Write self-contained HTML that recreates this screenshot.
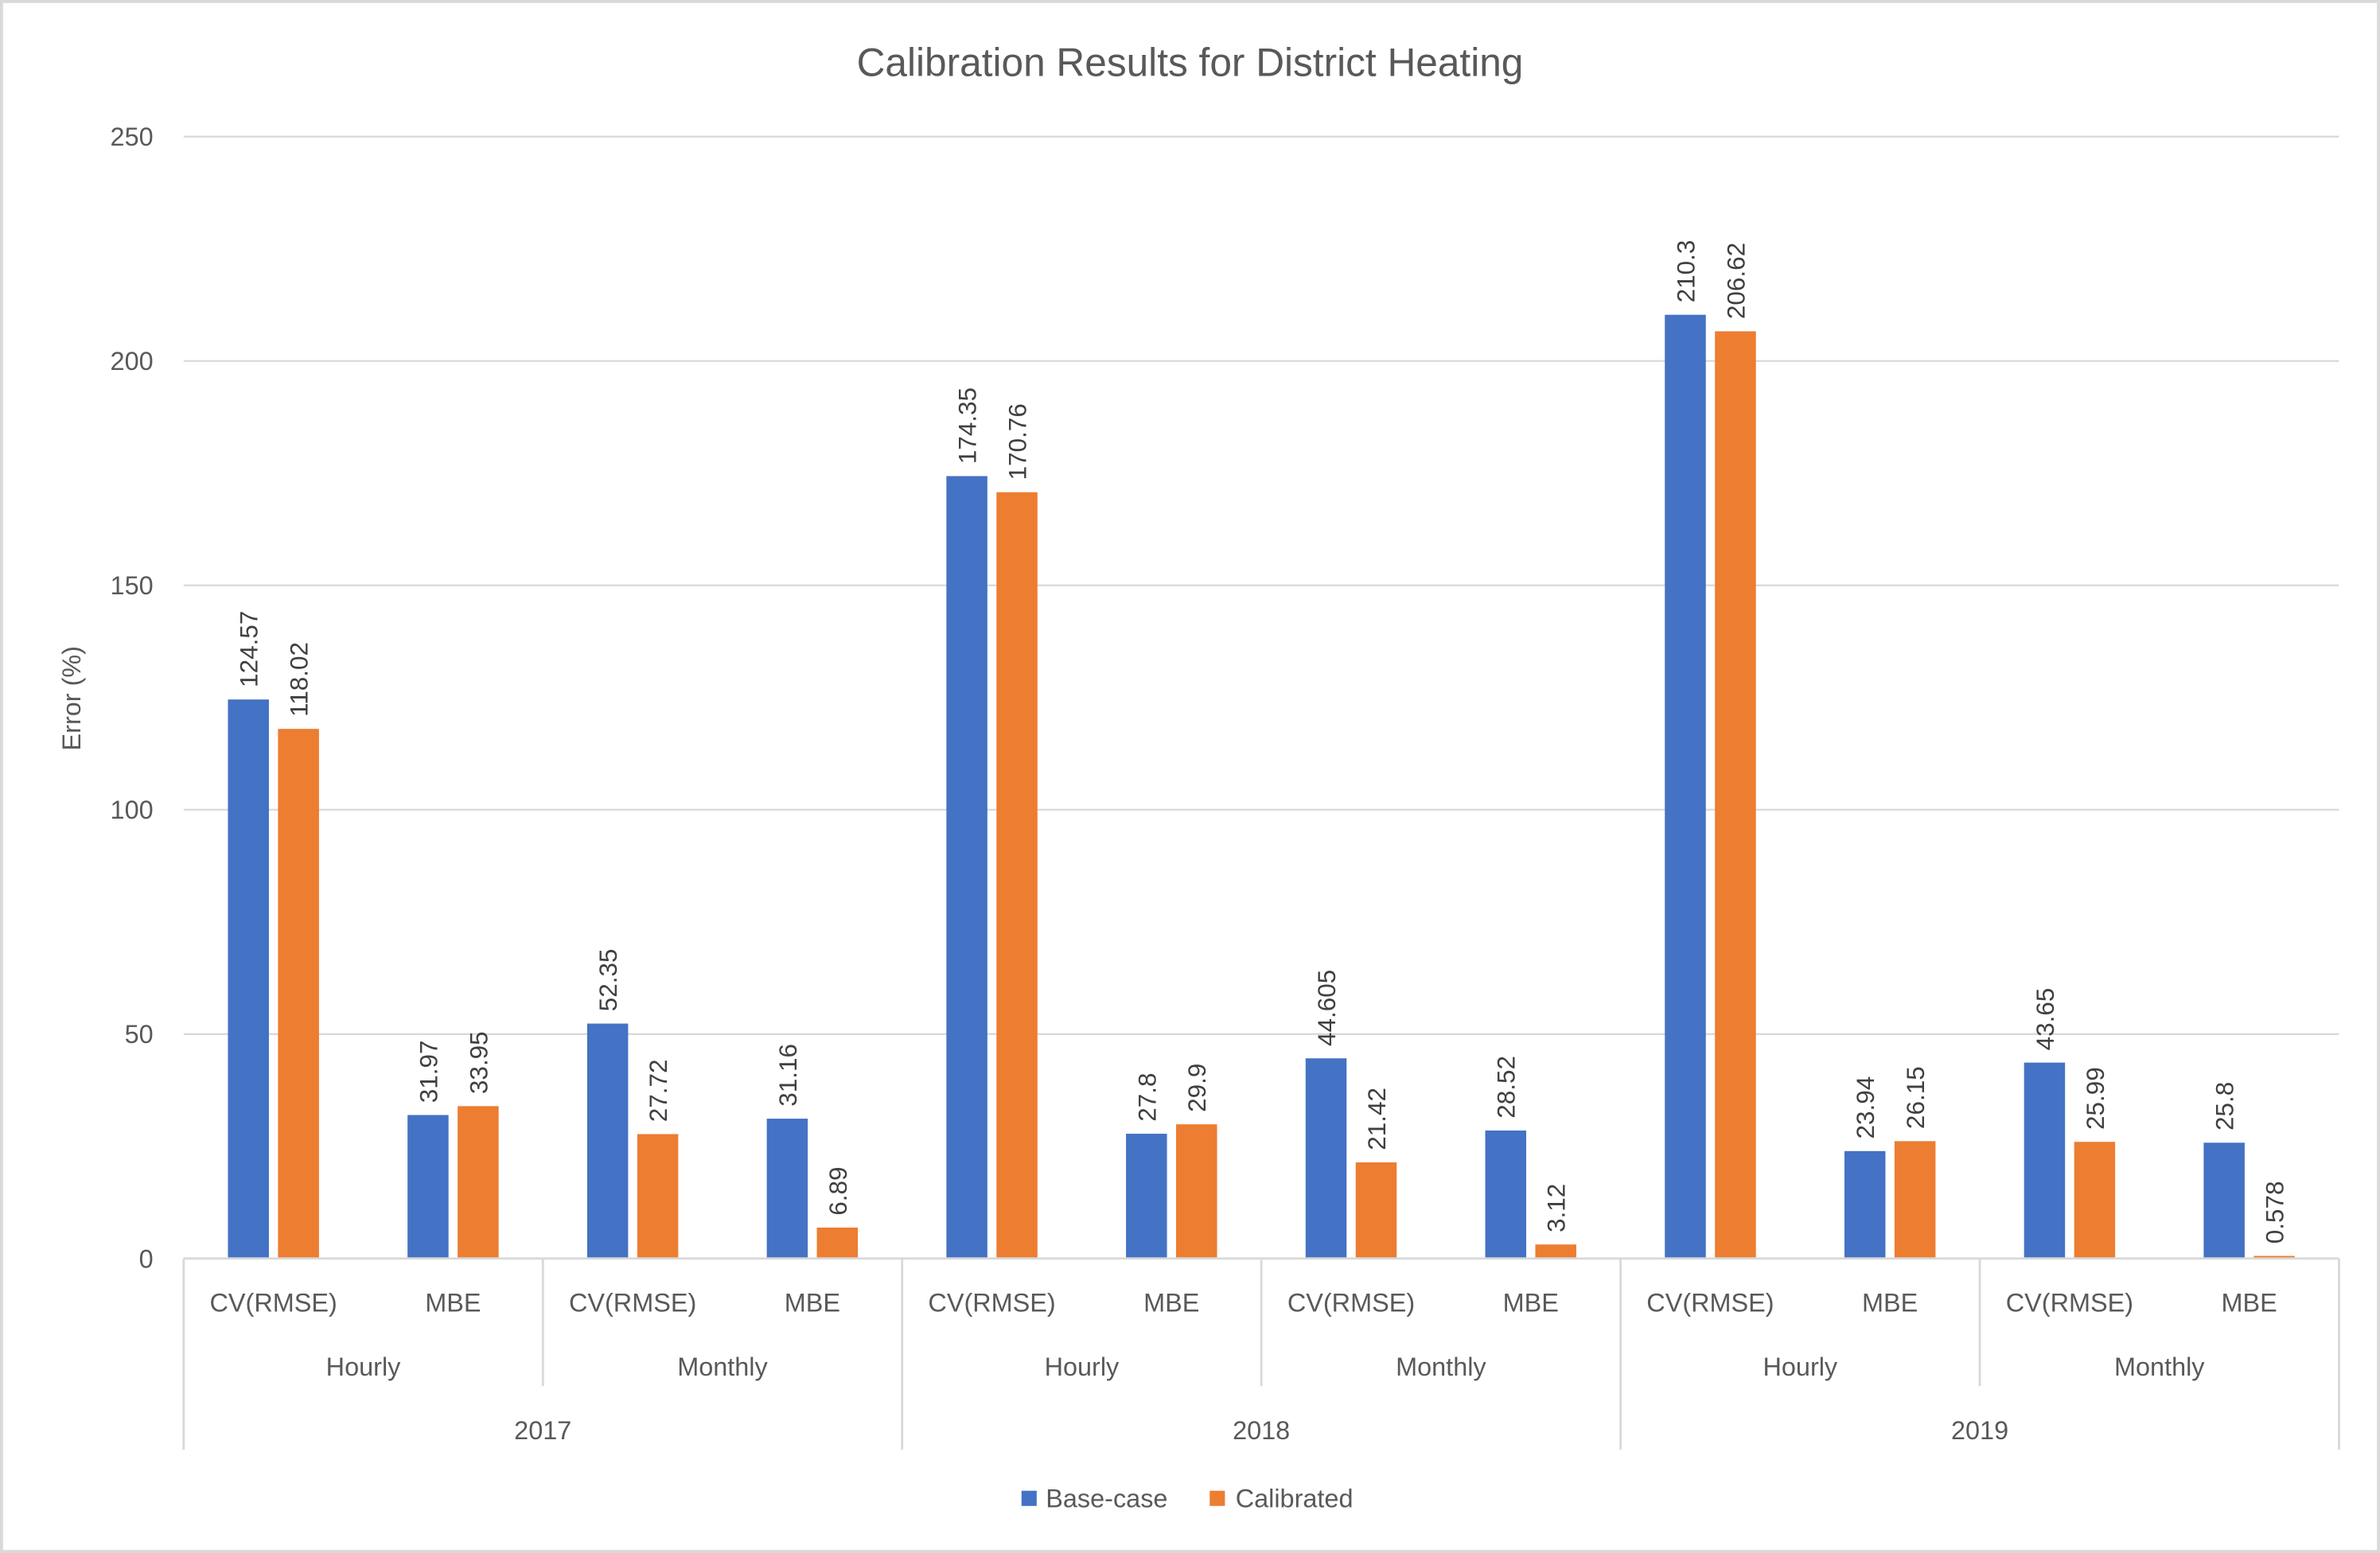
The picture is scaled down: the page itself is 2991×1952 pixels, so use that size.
<!DOCTYPE html>
<html><head><meta charset="utf-8"><style>
html,body{margin:0;padding:0;background:#fff;}
svg{display:block;font-family:"Liberation Sans",sans-serif;}
</style></head><body>
<svg id="chart" width="2991" height="1952" viewBox="0 0 1568 1023" preserveAspectRatio="none" xmlns="http://www.w3.org/2000/svg">
<rect x="1" y="1" width="1566" height="1021" fill="#fff" stroke="#d9d9d9" stroke-width="2"/>
<text x="784" y="50" text-anchor="middle" font-size="26" fill="#595959">Calibration Results for District Heating</text>
<text transform="translate(53,460) rotate(-90)" text-anchor="middle" font-size="17" fill="#595959">Error (%)</text>
<g id="grid"></g><g id="bars"></g><g id="xaxis"></g>
<g>
<rect x="673" y="982" width="10" height="10" fill="#4472C4"/>
<text x="689" y="993" font-size="17" fill="#595959">Base-case</text>
<rect x="797" y="982" width="10" height="10" fill="#ED7D31"/>
<text x="814" y="993" font-size="17" fill="#595959">Calibrated</text>
</g>
</svg>
<script>
const categories = ["CV(RMSE)","MBE","CV(RMSE)","MBE","CV(RMSE)","MBE","CV(RMSE)","MBE","CV(RMSE)","MBE","CV(RMSE)","MBE"];
const groups = ["Hourly","Monthly","Hourly","Monthly","Hourly","Monthly"];
const years = ["2017","2018","2019"];
const baseCase = [124.57,31.97,52.35,31.16,174.35,27.8,44.605,28.52,210.3,23.94,43.65,25.8];
const calibrated = [118.02,33.95,27.72,6.89,170.76,29.9,21.42,3.12,206.62,26.15,25.99,0.578];
const baseLabels = ["124.57","31.97","52.35","31.16","174.35","27.8","44.605","28.52","210.3","23.94","43.65","25.8"];
const calLabels = ["118.02","33.95","27.72","6.89","170.76","29.9","21.42","3.12","206.62","26.15","25.99","0.578"];
const yTicks = [0,50,100,150,200,250];

const NS="http://www.w3.org/2000/svg";
const X0=121,X1=1541,Y0=829,Y1=90,YMAX=250;
const cw=(X1-X0)/categories.length;
function y(v){return Y0-(v/YMAX)*(Y0-Y1);}
function xc(i){return X0+cw*(i+0.5);}
function mk(tag,attrs,parent,txt){const e=document.createElementNS(NS,tag);for(const k in attrs)e.setAttribute(k,attrs[k]);if(txt!==undefined)e.textContent=txt;parent.appendChild(e);return e;}
const grid=document.getElementById('grid'),bars=document.getElementById('bars'),xa=document.getElementById('xaxis');
yTicks.forEach(t=>{
  const l=mk('line',{x1:X0,x2:X1,y1:y(t),y2:y(t),stroke:'#d9d9d9','stroke-width':1.2},grid);
  
  
  const tx=mk('text',{x:101,y:y(t)+6,'text-anchor':'end','font-size':17,fill:'#595959'},grid,String(t));
  
  
});
const bw=27,gap=6;
categories.forEach((c,i)=>{
  const cx=xc(i);
  [[baseCase[i],baseLabels[i],'#4472C4',cx-gap/2-bw,'base'],[calibrated[i],calLabels[i],'#ED7D31',cx+gap/2,'cal']].forEach(([v,lab,col,bx,s])=>{
    const r=mk('rect',{x:bx,y:y(v),width:bw,height:Y0-y(v),fill:col},bars);
    
    
    const tx=bx+bw/2+6, ty=y(v)-8;
    const t=mk('text',{transform:'translate('+tx+','+ty+') rotate(-90)','font-size':16.5,fill:'#404040'},bars,lab);
    
    
  });
  const ct=mk('text',{x:cx,y:864,'text-anchor':'middle','font-size':17,fill:'#595959'},xa,c);
  
  
});
const ax=mk('line',{x1:X0,x2:X1,y1:Y0,y2:Y0,stroke:'#d9d9d9','stroke-width':1.5},xa);


groups.forEach((g,i)=>{
  const gx=X0+cw*2*(i+1);
  const gt=mk('text',{x:X0+cw*(2*i+1),y:906,'text-anchor':'middle','font-size':17,fill:'#595959'},xa,g);
  
  
  if((i+1)%2===1){const l=mk('line',{x1:gx,x2:gx,y1:Y0,y2:913,stroke:'#d9d9d9','stroke-width':1.5},xa);
    
    }
});
years.forEach((yr,i)=>{
  const yt=mk('text',{x:X0+cw*(4*i+2),y:948,'text-anchor':'middle','font-size':17,fill:'#595959'},xa,yr);
  
  
});
for(let i=0;i<=years.length;i++){
  const x=X0+cw*4*i;
  const l=mk('line',{x1:x,x2:x,y1:Y0,y2:955,stroke:'#d9d9d9','stroke-width':1.5},xa);
  
  
}
</script>
</body></html>
